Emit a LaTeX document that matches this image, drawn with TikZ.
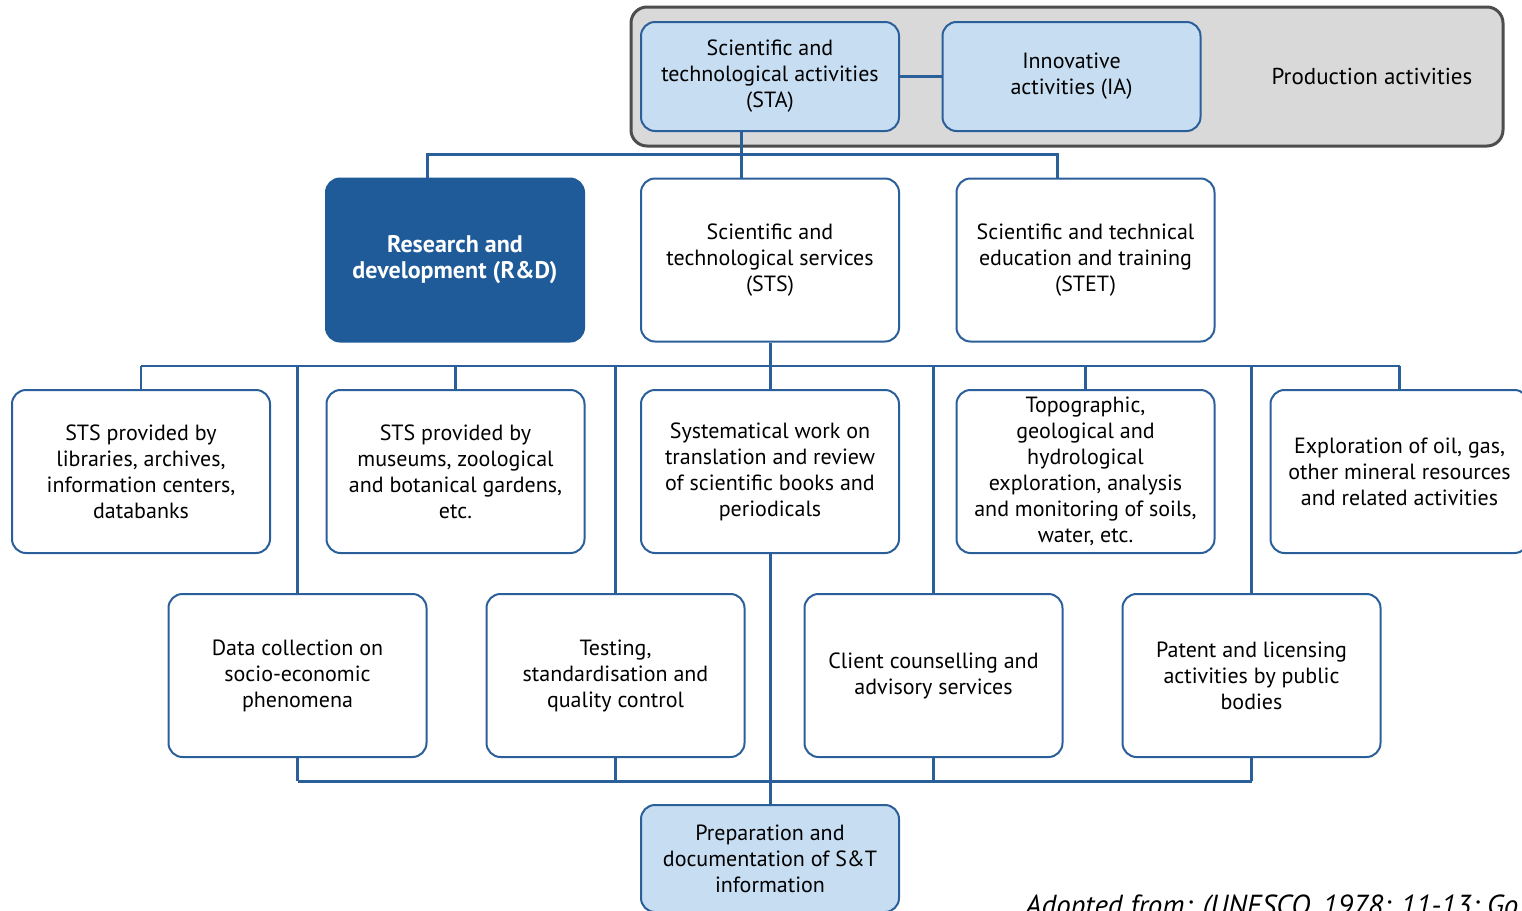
\documentclass[tikz,border=0pt]{standalone}
\usepackage{fontspec}
\setmainfont{PT Sans}
\usetikzlibrary{positioning,calc}
\definecolor{linkblue}{HTML}{2B5F9A}
\definecolor{darkblue}{HTML}{1E5B98}
\definecolor{paleblue}{HTML}{C6DDF2}
\definecolor{boxgray}{HTML}{D9D9D9}
\definecolor{edgegray}{HTML}{4D4D4D}
\tikzset{
  box/.style={draw=linkblue, line width=1pt, rounded corners=7pt, fill=white,
    minimum width=129pt, align=center, inner sep=2pt,
    font=\fontsize{11}{13}\selectfont},
  topbox/.style={box, fill=paleblue, minimum height=54.5pt},
  midbox/.style={box, minimum height=81.5pt},
  keybox/.style={midbox, fill=darkblue, draw=darkblue, text=white,
    font=\fontsize{12}{13}\selectfont\bfseries},
  prodbox/.style={draw=edgegray, fill=boxgray, line width=1.5pt, rounded corners=8pt},
  link/.style={draw=linkblue, line width=1.5pt},
  thinlink/.style={draw=linkblue, line width=1.2pt},
}

\begin{document}
\begin{tikzpicture}[x=0.5pt,y=-0.5pt]
	\useasboundingbox (0,0) rectangle (1522,911);
	\clip (0,0) rectangle (1522,911);
	\node[prodbox, minimum width=436pt, minimum height=69.5pt] (prod) at (1067,76.5) {};
	\node[topbox] (sta) at (770,76.5) {Scientific and\\technological activities\\(STA)};
	\node[topbox] (ia) at (1071.5,76.5) {Innovative\\activities (IA)};
	\node[font=\fontsize{11.5}{13}\selectfont] (prodlabel) at (1372,76) {Production activities};

	\node[keybox] (rd) at (455,260) {Research and\\development (R\&D)};
	\node[midbox] (sts) at (770,260) {Scientific and\\technological services\\(STS)};
	\node[midbox] (stet) at (1085.5,260) {Scientific and technical\\education and training\\(STET)};

	\node[midbox] (lib) at (141,471.5) {STS provided by\\libraries, archives,\\information centers,\\databanks};
	\node[midbox] (mus) at (455.5,471.5) {STS provided by\\museums, zoological\\and botanical gardens,\\etc.};
	\node[midbox] (sys) at (770,471.5) {Systematical work on\\translation and review\\of scientific books and\\periodicals};
	\node[midbox] (topo) at (1085.5,471.5) {Topographic,\\geological and\\hydrological\\exploration, analysis\\and monitoring of soils,\\water, etc.};
	\node[midbox] (oil) at (1399.5,471.5) {Exploration of oil, gas,\\other mineral resources\\and related activities};

	\node[midbox] (data) at (297.5,675.5) {Data collection on\\socio-economic\\phenomena};
	\node[midbox] (test) at (615.5,675.5) {Testing,\\standardisation and\\quality control};
	\node[midbox] (client) at (933.5,675.5) {Client counselling and\\advisory services};
	\node[midbox] (patent) at (1251.5,675.5) {Patent and licensing\\activities by public\\bodies};

	\node[topbox, minimum height=53.5pt] (prep) at (770,858.5) {Preparation and\\documentation of S\&T\\information};
	\node[anchor=base west, inner sep=0pt, font=\fontsize{14.5}{16}\selectfont\itshape] (source) at (1025,915) {Adopted from: (UNESCO, 1978: 11-13; Go};

	\coordinate (stajoin) at (741,154);
	\coordinate (upbus) at (0,366);
	\coordinate (lowbus) at (0,781);
	\draw[link] (sta) -- (ia);
	\draw[link] (sta.south -| stajoin) -- (sts.north -| stajoin);
	\draw[link] ($(rd.north)+(-28,0)$) |- (stajoin) -| ($(stet.north)+(-28,0)$);
	\draw[link] (sts.south) -- (sys.north);
	\draw[thinlink] (lib.north |- upbus) -- (oil.north |- upbus);
	\foreach \n in {lib,mus,topo,oil}
		\draw[thinlink] (\n.north) -- (\n.north |- upbus);
	\foreach \n in {data,test,client,patent}
	{
		\draw[thinlink] (\n.north) -- (\n.north |- upbus);
		\draw[link] (\n.south) -- (\n.south |- lowbus);
	}
	\draw[link] (data.south |- lowbus) -- (patent.south |- lowbus);
	\draw[link] (sys.south) -- (prep.north);
\end{tikzpicture}
\end{document}
